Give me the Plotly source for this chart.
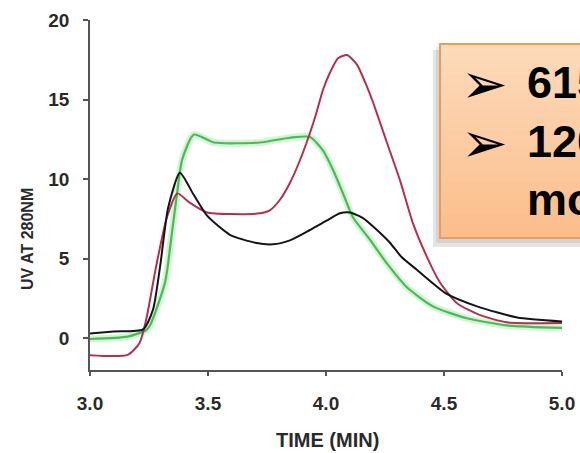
import plotly.graph_objects as go

# ---- data ----
black_t = [3.00, 3.10, 3.225, 3.267, 3.297, 3.331, 3.381, 3.436, 3.496, 3.593, 3.70, 3.775, 3.847, 3.932, 4.004, 4.059, 4.102, 4.157, 4.216, 4.271, 4.320, 4.385, 4.51, 4.64, 4.81, 5.00]
black_v = [0.30, 0.42, 0.55, 1.8, 4.5, 8.2, 10.4, 9.1, 7.7, 6.5, 6.0, 5.9, 6.15, 6.8, 7.4, 7.85, 7.9, 7.55, 6.8, 6.0, 5.1, 4.3, 2.8, 2.0, 1.3, 1.05]

red_t = [3.00, 3.16, 3.21, 3.24, 3.28, 3.326, 3.37, 3.424, 3.496, 3.60, 3.72, 3.763, 3.805, 3.847, 3.890, 3.932, 3.962, 3.987, 4.017, 4.051, 4.089, 4.131, 4.174, 4.20, 4.258, 4.314, 4.369, 4.428, 4.483, 4.555, 4.653, 4.767, 5.00]
red_v = [-1.07, -1.05, -0.3, 1.3, 4.5, 7.6, 9.1, 8.5, 7.9, 7.8, 7.85, 8.05, 8.7, 9.75, 11.2, 12.9, 14.3, 15.6, 16.7, 17.6, 17.8, 17.2, 15.8, 14.8, 12.3, 9.9, 7.2, 5.1, 3.5, 2.2, 1.45, 1.0, 0.95]

green_t = [3.00, 3.16, 3.237, 3.254, 3.318, 3.347, 3.369, 3.39, 3.44, 3.525, 3.72, 3.847, 3.932, 3.987, 4.029, 4.072, 4.114, 4.186, 4.258, 4.343, 4.453, 4.597, 4.767, 5.00]
green_v = [-0.05, 0.1, 0.5, 0.8, 3.5, 6.6, 9.1, 11.2, 12.8, 12.3, 12.3, 12.6, 12.65, 11.8, 10.6, 9.1, 7.6, 6.2, 4.7, 3.2, 2.0, 1.25, 0.8, 0.65]

x_ticks = [3.0, 3.5, 4.0, 4.5, 5.0]
x_tick_labels = ["3.0", "3.5", "4.0", "4.5", "5.0"]
y_ticks = [0, 5, 10, 15, 20]
y_tick_labels = ["0", "5", "10", "15", "20"]

x_title = "TIME (MIN)"
y_title = "UV AT 280NM"
bullet_lines = ["615", "120", "mo"]

# ---- figure ----
W, H = 580, 453
L, R, T, B = 90, 18, 20, 83
PW, PH = W - L - R, H - T - B

def px(xp):
    return (xp - L) / PW

def py(yp):
    return (H - B - yp) / PH

SM = 0.6
fig = go.Figure()
fig.add_trace(go.Scatter(x=green_t, y=green_v, mode="lines",
                         line=dict(color="rgba(130,225,130,0.35)", width=7, shape="spline", smoothing=SM),
                         hoverinfo="skip", showlegend=False))
fig.add_trace(go.Scatter(x=green_t, y=green_v, mode="lines",
                         line=dict(color="#4DB85A", width=2.2, shape="spline", smoothing=SM),
                         showlegend=False))
fig.add_trace(go.Scatter(x=red_t, y=red_v, mode="lines",
                         line=dict(color="#B33050", width=2, shape="spline", smoothing=SM),
                         showlegend=False))
fig.add_trace(go.Scatter(x=black_t, y=black_v, mode="lines",
                         line=dict(color="#151515", width=2, shape="spline", smoothing=SM),
                         showlegend=False))

tickfont = dict(family="Liberation Sans, Arial", size=19, color="#2a2a2a", weight="bold")
fig.update_xaxes(range=[3, 5], tickvals=x_ticks, ticktext=x_tick_labels, automargin=False,
                 showgrid=False, zeroline=False, showline=True, linecolor="#555", linewidth=1.5,
                 ticks="outside", ticklen=4, tickcolor="#555", tickwidth=1.5,
                 tickfont=tickfont, ticklabelstandoff=11)
fig.update_yaxes(range=[-2, 20], tickvals=y_ticks, ticktext=y_tick_labels, automargin=False,
                 showgrid=False, zeroline=False, showline=True, linecolor="#555", linewidth=1.5,
                 ticks="outside", ticklen=5, tickcolor="#555", tickwidth=1.5,
                 tickfont=tickfont, ticklabelstandoff=10)

shapes = []
# shadow of the callout box
shapes.append(dict(type="rect", xref="paper", yref="paper",
                   x0=px(433), x1=px(640), y0=py(247), y1=py(50),
                   fillcolor="rgba(0,0,0,0.10)", line=dict(width=0), layer="above"))
shapes.append(dict(type="rect", xref="paper", yref="paper",
                   x0=px(436), x1=px(640), y0=py(243), y1=py(47),
                   fillcolor="rgba(0,0,0,0.08)", line=dict(width=0), layer="above"))
# gradient fill of callout box
top, bot = 44, 238
n = 24
c0 = (253, 218, 186)
c1 = (251, 190, 140)
for i in range(n):
    y0 = top + (bot - top) * i / n
    y1 = top + (bot - top) * (i + 1) / n
    f = i / (n - 1)
    c = tuple(int(round(c0[k] + (c1[k] - c0[k]) * f)) for k in range(3))
    shapes.append(dict(type="rect", xref="paper", yref="paper",
                       x0=px(440), x1=px(640), y0=py(y1 + 0.5), y1=py(y0),
                       fillcolor="rgb(%d,%d,%d)" % c, line=dict(width=0), layer="above"))
shapes.append(dict(type="rect", xref="paper", yref="paper",
                   x0=px(440), x1=px(640), y0=py(bot), y1=py(top),
                   fillcolor="rgba(0,0,0,0)", line=dict(color="#F39A52", width=2), layer="above"))

annotations = []
line_y = [83, 142, 200]
for i, txt in enumerate(bullet_lines):
    if i < 2:
        annotations.append(dict(xref="paper", yref="paper", x=px(459), y=py(line_y[i]),
                                xanchor="left", yanchor="middle", showarrow=False,
                                text="➢", font=dict(family="DejaVu Sans", size=56, color="black")))
    annotations.append(dict(xref="paper", yref="paper", x=px(525), y=py(line_y[i] - 1),
                            xanchor="left", yanchor="middle", showarrow=False,
                            text=txt, font=dict(family="Liberation Sans, Arial", size=45,
                                                color="black", weight="bold")))
annotations.append(dict(xref="paper", yref="paper", x=px(327), y=py(440),
                        xanchor="center", yanchor="middle", showarrow=False,
                        text=x_title, font=dict(family="Liberation Sans, Arial", size=20,
                                                color="#2a2a2a", weight="bold")))
annotations.append(dict(xref="paper", yref="paper", x=px(28), y=py(239),
                        xanchor="center", yanchor="middle", showarrow=False, textangle=-90,
                        text=y_title, font=dict(family="Liberation Sans, Arial", size=16,
                                                color="#2a2a2a", weight="bold")))

fig.update_layout(width=W, height=H, margin=dict(l=L, r=R, t=T, b=B),
                  paper_bgcolor="white", plot_bgcolor="white",
                  shapes=shapes, annotations=annotations, showlegend=False)

fig.write_html("out.html", config={"displayModeBar": False},
               post_script="document.body.style.margin='0';document.body.style.overflow='hidden';")
